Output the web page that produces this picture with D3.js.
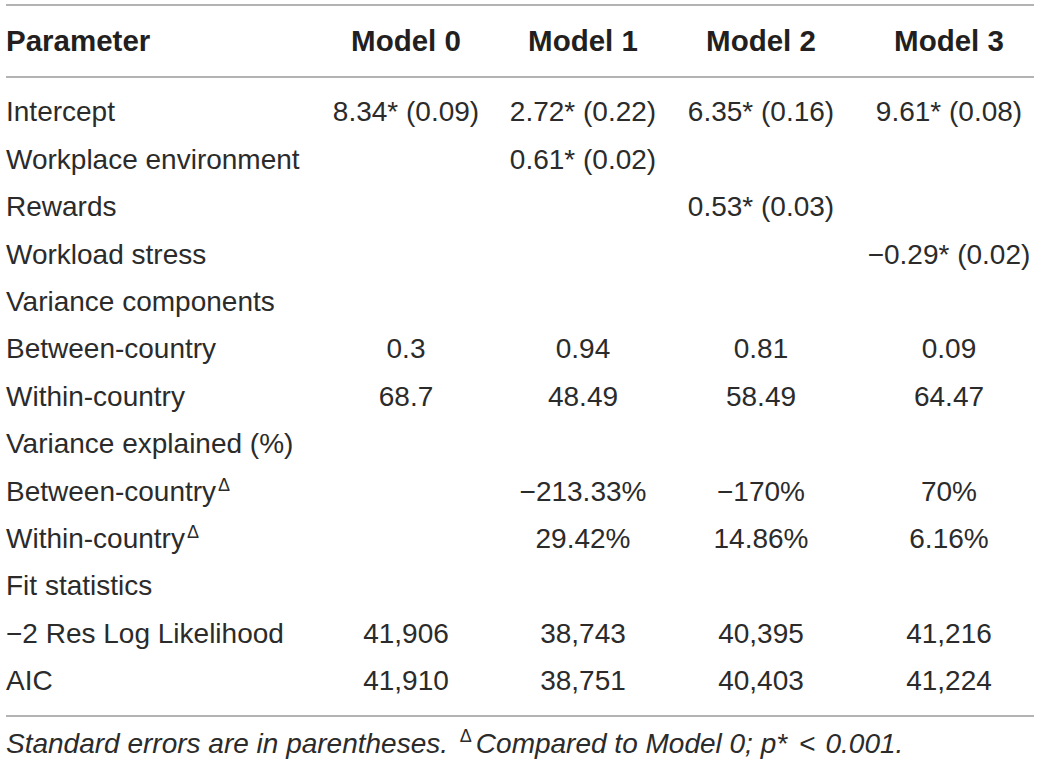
<!DOCTYPE html>
<html lang="en">
<head>
  <meta charset="UTF-8">
  <title>Multilevel models table</title>
  <script src="https://d3js.org/d3.v7.min.js"></script>
  <style>
    body { margin: 0; background: #fff; }
    text { font-family: "Liberation Sans", Arial, sans-serif; fill: #2b2b2b; }
  </style>
</head>
<body>
  <svg id="chart" width="1040" height="769"></svg>
  <script>
    // table content
    const headers = ['Parameter', 'Model 0', 'Model 1', 'Model 2', 'Model 3'];
    const models = ['Model 0', 'Model 1', 'Model 2', 'Model 3'];
    const parameters = [
      'Intercept', 'Workplace environment', 'Rewards', 'Workload stress',
      'Variance components', 'Between-country', 'Within-country',
      'Variance explained (%)', 'Between-country', 'Within-country',
      'Fit statistics', '\u22122 Res Log Likelihood', 'AIC'
    ];
    // rows flagged with the delta superscript
    const deltaRows = [8, 9];
    const model0 = ['8.34* (0.09)', '', '', '', '', '0.3', '68.7', '', '', '', '', '41,906', '41,910'];
    const model1 = ['2.72* (0.22)', '0.61* (0.02)', '', '', '', '0.94', '48.49', '', '\u2212213.33%', '29.42%', '', '38,743', '38,751'];
    const model2 = ['6.35* (0.16)', '', '0.53* (0.03)', '', '', '0.81', '58.49', '', '\u2212170%', '14.86%', '', '40,395', '40,403'];
    const model3 = ['9.61* (0.08)', '', '', '\u22120.29* (0.02)', '', '0.09', '64.47', '', '70%', '6.16%', '', '41,216', '41,224'];
    const footnote = 'Standard errors are in parentheses. ';
    const footnote2 = 'Compared to Model 0; p*';
    const footnote3 = '0.001.';

    const svg = d3.select('#chart');
    const lineColor = '#b3b3b3';

    const y = d3.scaleBand()
      .domain(d3.range(parameters.length))
      .range([88, 704]);

    const x = d3.scaleOrdinal()
      .domain(models)
      .range([406, 583, 761, 949]);

    // rules
    svg.selectAll('line.rule')
      .data([5, 77, 716])
      .enter().append('line')
      .attr('class', 'rule')
      .attr('x1', 6).attr('x2', 1034)
      .attr('y1', d => d).attr('y2', d => d)
      .attr('stroke', lineColor)
      .attr('stroke-width', 2);

    // header row
    svg.selectAll('text.head')
      .data(headers)
      .enter().append('text')
      .attr('class', 'head')
      .attr('x', (d, i) => i === 0 ? 6 : x(d))
      .attr('y', 41)
      .attr('dy', '0.35em')
      .attr('text-anchor', (d, i) => i === 0 ? 'start' : 'middle')
      .style('font-weight', 'bold')
      .style('font-size', '29.5px')
      .style('fill', '#231f20')
      .text(d => d);

    // row labels
    const labels = svg.selectAll('text.label')
      .data(parameters)
      .enter().append('text')
      .attr('class', 'label')
      .attr('x', 6)
      .attr('y', (d, i) => y(i) + y.bandwidth() / 2)
      .attr('dy', '0.35em')
      .style('font-size', '28px')
      .text(d => d);

    labels.filter((d, i) => deltaRows.includes(i))
      .append('tspan')
      .attr('dy', '-10')
      .attr('dx', '2')
      .style('font-size', '18px')
      .text('\u0394');

    // model cells
    const columns = [model0, model1, model2, model3];
    columns.forEach((col, j) => {
      svg.selectAll('text.m' + j)
        .data(col)
        .enter().append('text')
        .attr('class', 'm' + j)
        .attr('x', x(models[j]))
        .attr('y', (d, i) => y(i) + y.bandwidth() / 2)
        .attr('dy', '0.35em')
        .attr('text-anchor', 'middle')
        .style('font-size', '28px')
        .text(d => d);
    });

    // footnote
    const footY = 753;
    const foot = svg.append('text')
      .attr('x', 6)
      .attr('y', footY)
      .style('font-size', '28px')
      .style('font-style', 'italic');
    foot.append('tspan').text(footnote);
    foot.append('tspan').attr('y', footY - 11).attr('dx', 4).style('font-size', '18px').style('font-style', 'normal').text('\u0394');
    foot.append('tspan').attr('y', footY).attr('dx', 4).text(footnote2);
    foot.append('tspan').attr('dx', 12).style('font-style', 'normal').text('<');
    foot.append('tspan').attr('dx', 10).text(footnote3);
  </script>
</body>
</html>
